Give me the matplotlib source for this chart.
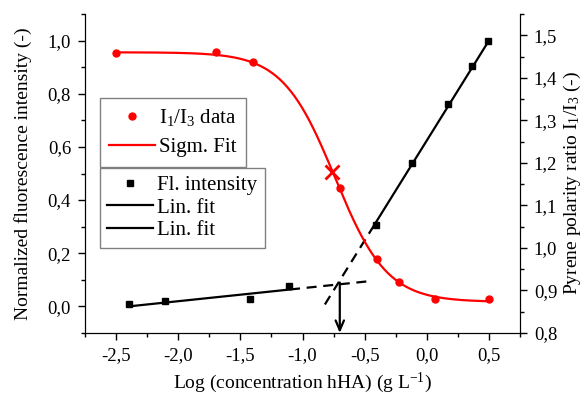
import numpy as np
import matplotlib
matplotlib.use("Agg")
import matplotlib.pyplot as plt
from matplotlib.lines import Line2D
from matplotlib.ticker import MultipleLocator, FuncFormatter

plt.rcParams['font.family'] = ['Liberation Serif', 'DejaVu Serif']
plt.rcParams['mathtext.fontset'] = 'custom'
plt.rcParams['mathtext.rm'] = 'Liberation Serif'
plt.rcParams['mathtext.it'] = 'Liberation Serif:italic'

# ---- data ----
ratio_x = [-2.5, -1.7, -1.4, -0.70, -0.40, -0.22, 0.07, 0.5]
ratio_y = [1.458, 1.46, 1.436, 1.14, 0.975, 0.92, 0.88, 0.88]

fl_x = [-2.40, -2.11, -1.42, -1.11, -0.41, -0.12, 0.17, 0.36, 0.49]
fl_y = [0.010, 0.020, 0.027, 0.077, 0.308, 0.538, 0.760, 0.903, 0.997]

# Boltzmann sigmoid fit parameters
sig_A1, sig_A2, sig_x0, sig_dx = 1.46, 0.873, -0.74, 0.21
cmc_marker = (-0.76, 1.178)

# linear fits: slope, intercept
lin1_slope, lin1_icpt = 0.049, 0.1176
lin2_slope, lin2_icpt = 0.752, 0.624
lin1_solid = (-2.40, -1.10)
lin1_dash = (-1.10, -0.48)
lin2_solid = (-0.41, 0.50)
lin2_dash = (-0.82, -0.41)

arrow_x = -0.70
arrow_top = 0.09

xticks = [-2.5, -2.0, -1.5, -1.0, -0.5, 0.0, 0.5]

fig = plt.figure(figsize=(5.82, 3.96), dpi=100)
ax = fig.add_axes([85/582, 1-333/396, (520-85)/582, (333-14)/396])
ax2 = ax.twinx()

comma = FuncFormatter(lambda v, p: f"{v:.1f}".replace('.', ','))

# sigmoid on ax2
xs = np.linspace(-2.5, 0.5, 300)
ys = sig_A2 + (sig_A1 - sig_A2) / (1 + np.exp((xs - sig_x0) / sig_dx))
ax2.plot(xs, ys, color='#ff0000', lw=1.6, zorder=3)
ax2.plot(ratio_x, ratio_y, 'o', color='#ff0000', ms=5, zorder=4)
ax2.plot([cmc_marker[0]], [cmc_marker[1]], 'x', color='#ff0000', ms=10, mew=2, zorder=5)

# linear fits on ax
def lin(s, b, rng):
    x = np.array(rng)
    return x, s * x + b

x, y = lin(lin1_slope, lin1_icpt, lin1_solid)
ax.plot(x, y, color='black', lw=1.6)
x, y = lin(lin1_slope, lin1_icpt, lin1_dash)
ax.plot(x, y, color='black', lw=1.6, ls=(0, (4.5, 3)))
x, y = lin(lin2_slope, lin2_icpt, lin2_solid)
ax.plot(x, y, color='black', lw=1.6)
x, y = lin(lin2_slope, lin2_icpt, lin2_dash)
ax.plot(x, y, color='black', lw=1.6, ls=(0, (4.5, 3)))
ax.plot(fl_x, fl_y, 's', color='black', ms=5)

ax.annotate('', xy=(arrow_x, -0.1), xytext=(arrow_x, arrow_top),
            arrowprops=dict(arrowstyle='->,head_length=0.7,head_width=0.3',
                            color='black', lw=1.6, shrinkA=0, shrinkB=0))

ax.set_xlim(-2.75, 0.75)
ax.set_ylim(-0.1, 1.1)
ax.set_xticks(xticks)
ax.xaxis.set_minor_locator(MultipleLocator(0.25))
ax.yaxis.set_major_locator(MultipleLocator(0.2))
ax.yaxis.set_minor_locator(MultipleLocator(0.1))
ax2.yaxis.set_major_locator(MultipleLocator(0.1))
ax2.yaxis.set_minor_locator(MultipleLocator(0.05))
ax.xaxis.set_major_formatter(comma)
ax.yaxis.set_major_formatter(comma)
ax2.yaxis.set_major_formatter(comma)
ax2.set_ylim(0.8, 1.55)

for a in (ax, ax2):
    a.tick_params(which='major', direction='out', length=5, width=1, labelsize=13.5, pad=5)
    a.tick_params(which='minor', direction='out', length=3, width=1)
ax.spines['top'].set_visible(False)
ax2.spines['top'].set_visible(False)

ax.set_xlabel(r'Log (concentration hHA) (g L$\mathregular{^{-1}}$)', fontsize=14)
ax.set_ylabel('Normalized fluorescence intensity (-)', fontsize=14)
ax2.set_ylabel(r'Pyrene polarity ratio $\mathregular{I_1/I_3}$ (-)', fontsize=14)
ax.xaxis.set_label_coords(0.5, -0.117)
ax.yaxis.set_label_coords(-0.122, 0.5)
ax2.yaxis.set_label_coords(1.096, 0.47)

h1 = [Line2D([], [], color='#ff0000', marker='o', ls='none', ms=5),
      Line2D([], [], color='#ff0000', lw=1.6)]
leg1 = ax2.legend(h1, [r'$\mathregular{I_1/I_3}$ data', 'Sigm. Fit'],
                  loc='upper left', bbox_to_anchor=(100/582, 1-98/396),
                  bbox_transform=fig.transFigure, borderaxespad=0,
                  fancybox=False, edgecolor='#808080', framealpha=1,
                  fontsize=15, handlelength=2.2, handletextpad=0.2,
                  labelspacing=0.45, borderpad=0.45)
ax2.add_artist(leg1)
h2 = [Line2D([], [], color='black', marker='s', ls='none', ms=5),
      Line2D([], [], color='black', lw=1.6),
      Line2D([], [], color='black', lw=1.6)]
leg2 = ax2.legend(h2, ['Fl. intensity', 'Lin. fit', 'Lin. fit'],
                  loc='upper left', bbox_to_anchor=(100/582, 1-168/396),
                  bbox_transform=fig.transFigure, borderaxespad=0,
                  fancybox=False, edgecolor='#808080', framealpha=1,
                  fontsize=15, handlelength=2.2, handletextpad=0.2,
                  labelspacing=0.15, borderpad=0.35)
for lg in (leg1, leg2):
    lg.get_frame().set_linewidth(1.0)

fig.savefig('out.png', dpi=100)
